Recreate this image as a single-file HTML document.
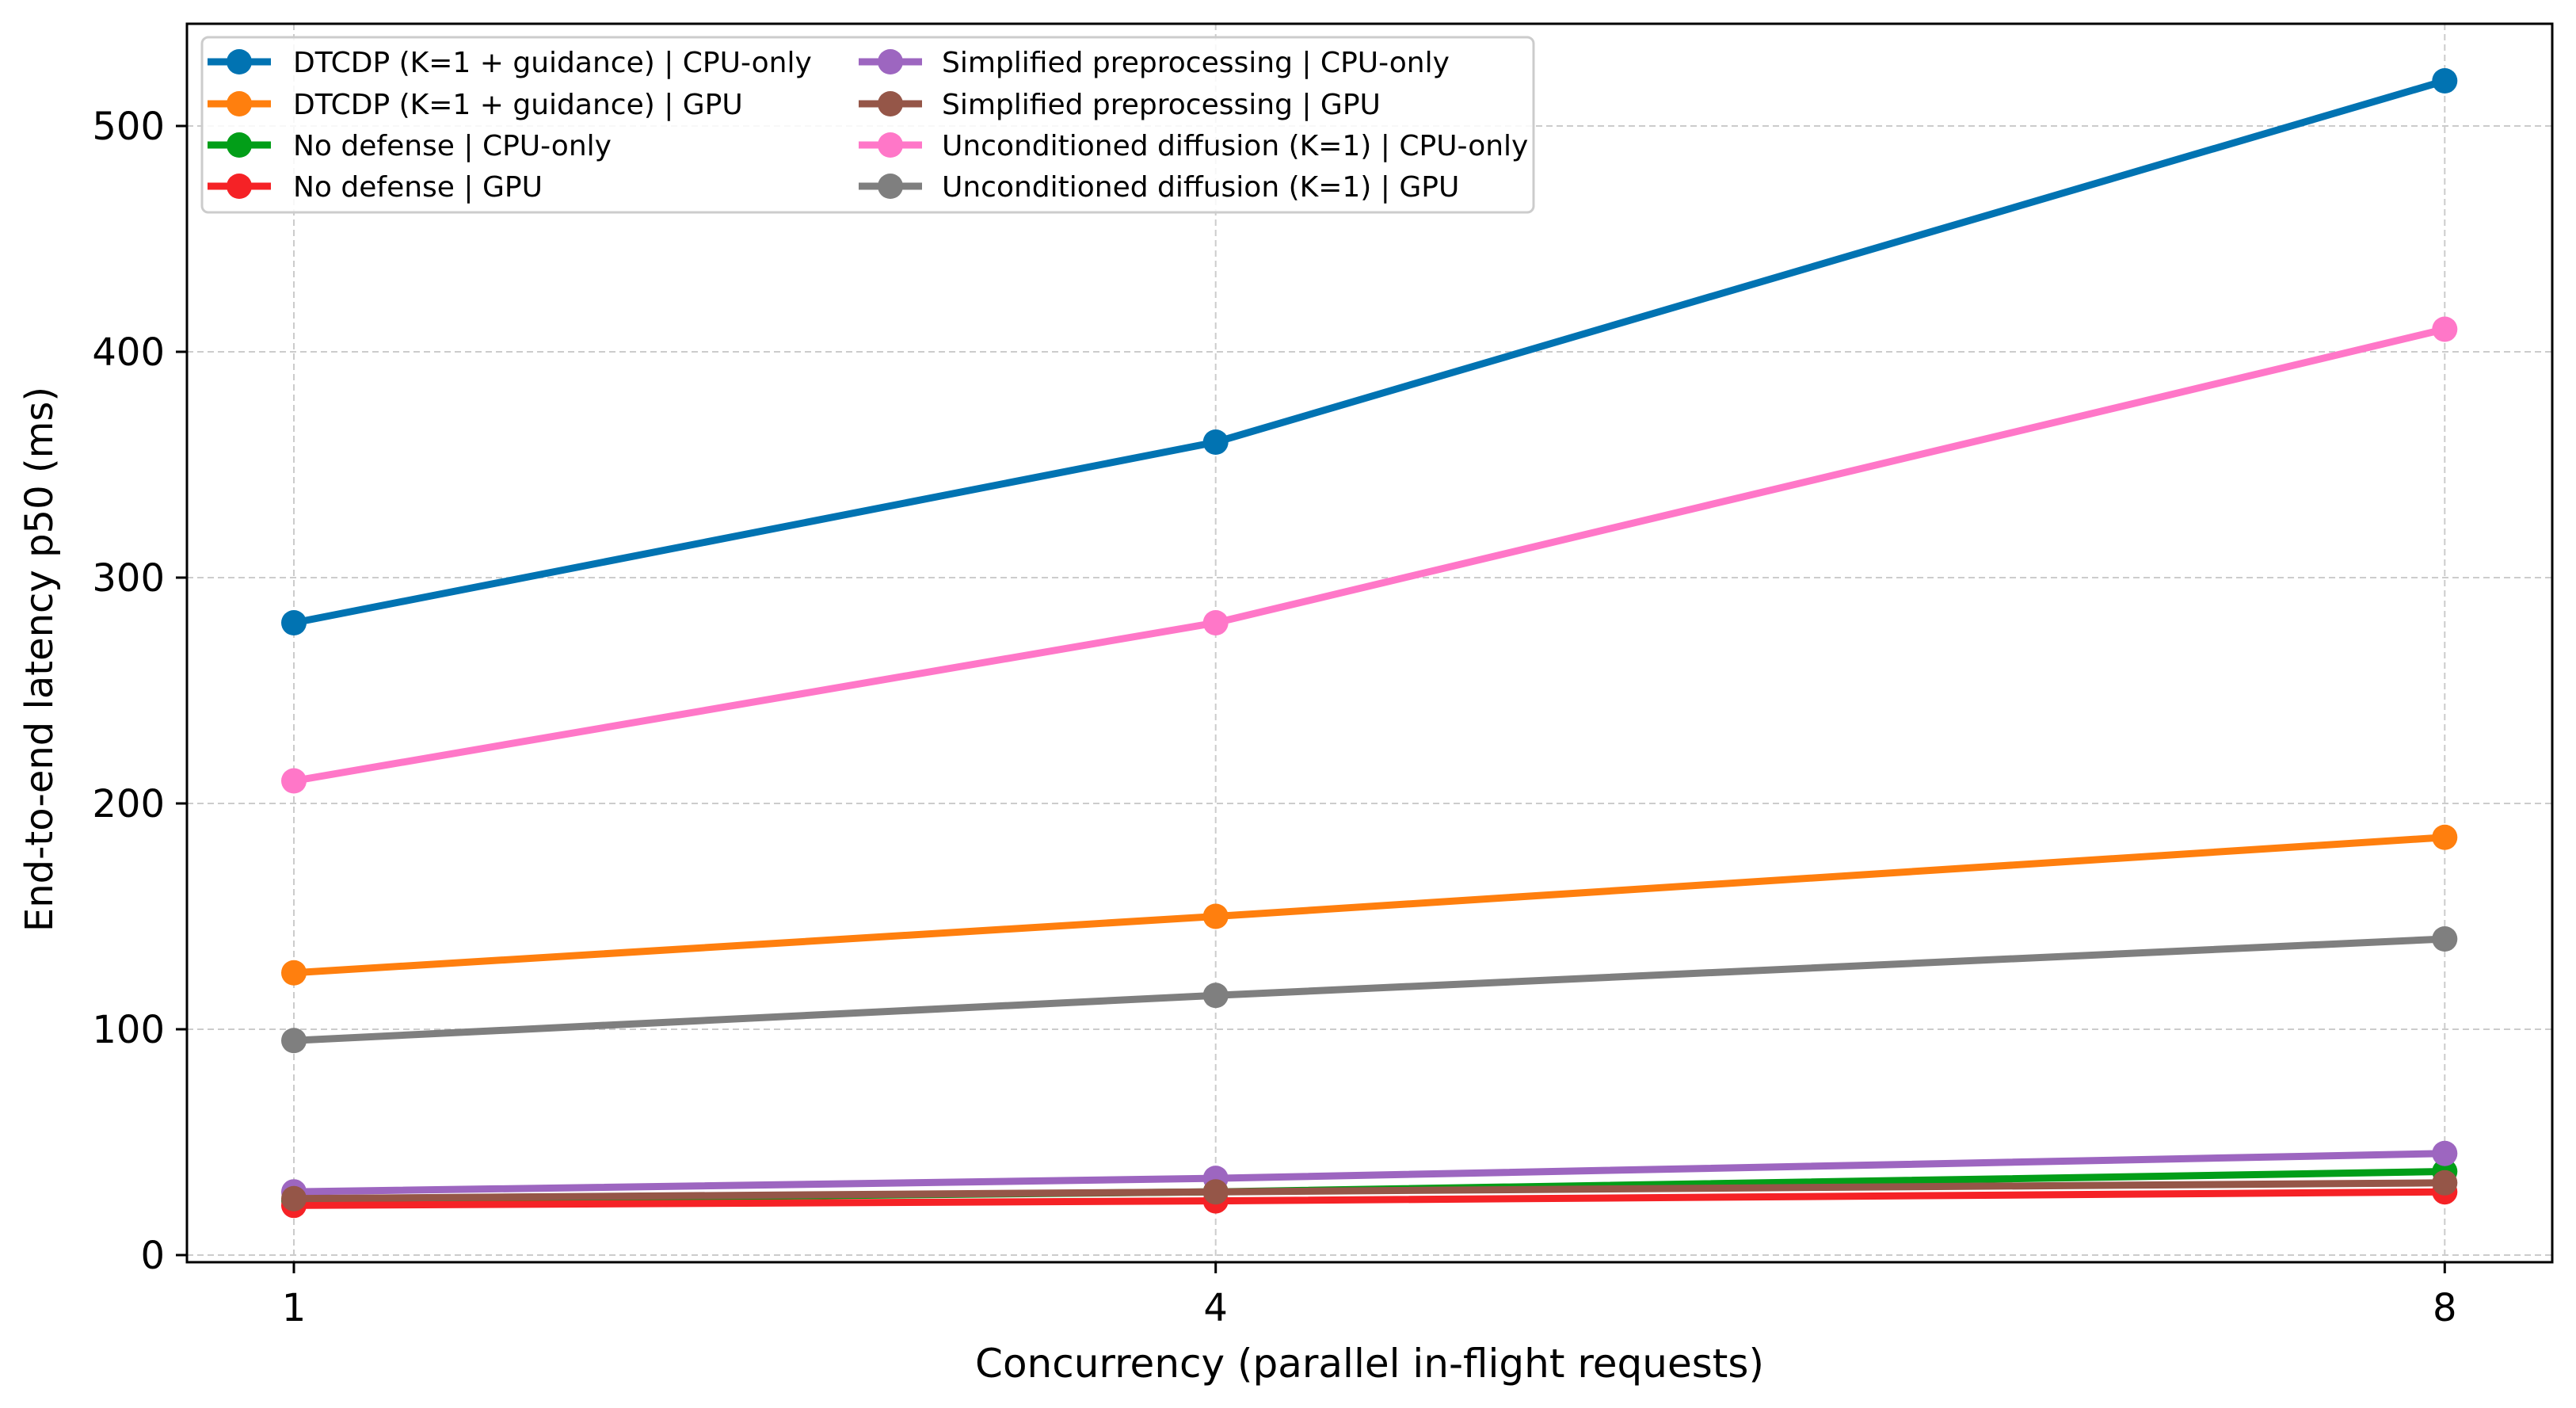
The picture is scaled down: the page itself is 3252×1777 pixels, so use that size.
<!DOCTYPE html>
<html><head><meta charset="utf-8">
<style>
html,body{margin:0;padding:0;background:#fff;}
svg{display:block;font-family:"DejaVu Sans","Liberation Sans",sans-serif;}
</style></head>
<body>
<svg id="chart" width="3252" height="1777" viewBox="0 0 3252 1777" xmlns="http://www.w3.org/2000/svg">
<g id="grid"></g>
<g id="series"></g>
<rect x="236" y="30" width="2986" height="1563" fill="none" stroke="#000" stroke-width="3"/>
<g id="ticks"></g>
<text x="1729" y="1738" font-size="50" text-anchor="middle">Concurrency (parallel in-flight requests)</text>
<text transform="translate(66,832) rotate(-90)" font-size="48" text-anchor="middle">End-to-end latency p50 (ms)</text>
<g id="legend"></g>
</svg>
<script>
const categories = [1, 4, 8];
const dtcdpCpu = [280, 360, 520];
const dtcdpGpu = [125, 150, 185];
const noDefCpu = [24, 28, 37];
const noDefGpu = [22, 24, 28];
const simpCpu = [28, 34, 45];
const simpGpu = [25, 28, 32];
const uncondCpu = [210, 280, 410];
const uncondGpu = [95, 115, 140];
const yTicks = [0, 100, 200, 300, 400, 500];
const xTicks = [1, 4, 8];
const seriesNames = ["DTCDP (K=1 + guidance) | CPU-only","DTCDP (K=1 + guidance) | GPU","No defense | CPU-only","No defense | GPU","Simplified preprocessing | CPU-only","Simplified preprocessing | GPU","Unconditioned diffusion (K=1) | CPU-only","Unconditioned diffusion (K=1) | GPU"];
const seriesColors = ["#0173b2","#ff7f0e","#029e18","#f52226","#9d66c0","#955648","#ff77c8","#7f7f7f"];
const seriesData = [dtcdpCpu, dtcdpGpu, noDefCpu, noDefGpu, simpCpu, simpGpu, uncondCpu, uncondGpu];

const NS = "http://www.w3.org/2000/svg";
function xs(v){ return 371 + (v - 1) * 387.9; }
function ys(v){ return 1584 - v * 2.85; }
function mk(tag, attrs, parent){ const e = document.createElementNS(NS, tag); for (const k in attrs) e.setAttribute(k, attrs[k]); parent.appendChild(e); return e; }

const grid = document.getElementById('grid');
const ticks = document.getElementById('ticks');
yTicks.forEach(t => {
  const l = mk('line', {x1:236, x2:3222, y1:ys(t), y2:ys(t), stroke:'#ccc', 'stroke-width':2, 'stroke-dasharray':'8,5'}, grid);
  
  
  const tk = mk('line', {x1:222, x2:236, y1:ys(t), y2:ys(t), stroke:'#000', 'stroke-width':3}, ticks);
  
  
  const tx = mk('text', {x:208, y:ys(t) + 17, 'font-size':48, 'text-anchor':'end'}, ticks);
  tx.textContent = t;
  
  
});
xTicks.forEach(t => {
  const l = mk('line', {x1:xs(t), x2:xs(t), y1:30, y2:1593, stroke:'#ccc', 'stroke-width':2, 'stroke-dasharray':'8,5'}, grid);
  
  
  const tk = mk('line', {x1:xs(t), x2:xs(t), y1:1593, y2:1607, stroke:'#000', 'stroke-width':3}, ticks);
  
  
  const tx = mk('text', {x:xs(t), y:1667, 'font-size':48, 'text-anchor':'middle'}, ticks);
  tx.textContent = t;
  
  
});

const sg = document.getElementById('series');
seriesData.forEach((d, i) => {
  const g = mk('g', {}, sg);
  
  
  const pts = d.map((v, j) => xs(categories[j]) + ',' + ys(v)).join(' ');
  const pl = mk('polyline', {points:pts, fill:'none', stroke:seriesColors[i], 'stroke-width':9, 'stroke-linejoin':'round'}, g);
  
  
  d.forEach((v, j) => {
    const c = mk('circle', {cx:xs(categories[j]), cy:ys(v), r:16, fill:seriesColors[i]}, g);
    
    
  });
});

const lg = document.getElementById('legend');
const box = mk('rect', {x:255, y:47, width:1681, height:221, rx:8, fill:'#fff', 'fill-opacity':0.85, stroke:'#ccc', 'stroke-width':3}, lg);


const rowsY = [78, 131, 183, 235];
seriesNames.forEach((n, i) => {
  const col = Math.floor(i / 4), row = i % 4;
  const hx = col === 0 ? 262 : 1084;
  const tx0 = col === 0 ? 370 : 1189;
  const y = rowsY[row];
  const g = mk('g', {}, lg);
  
  
  mk('line', {x1:hx, x2:hx + 80, y1:y, y2:y, stroke:seriesColors[i], 'stroke-width':9}, g);
  mk('circle', {cx:hx + 40, cy:y, r:16, fill:seriesColors[i]}, g);
  const t = mk('text', {x:tx0, y:y + 13, 'font-size':36}, g);
  t.textContent = n;
});
</script>
</body></html>
